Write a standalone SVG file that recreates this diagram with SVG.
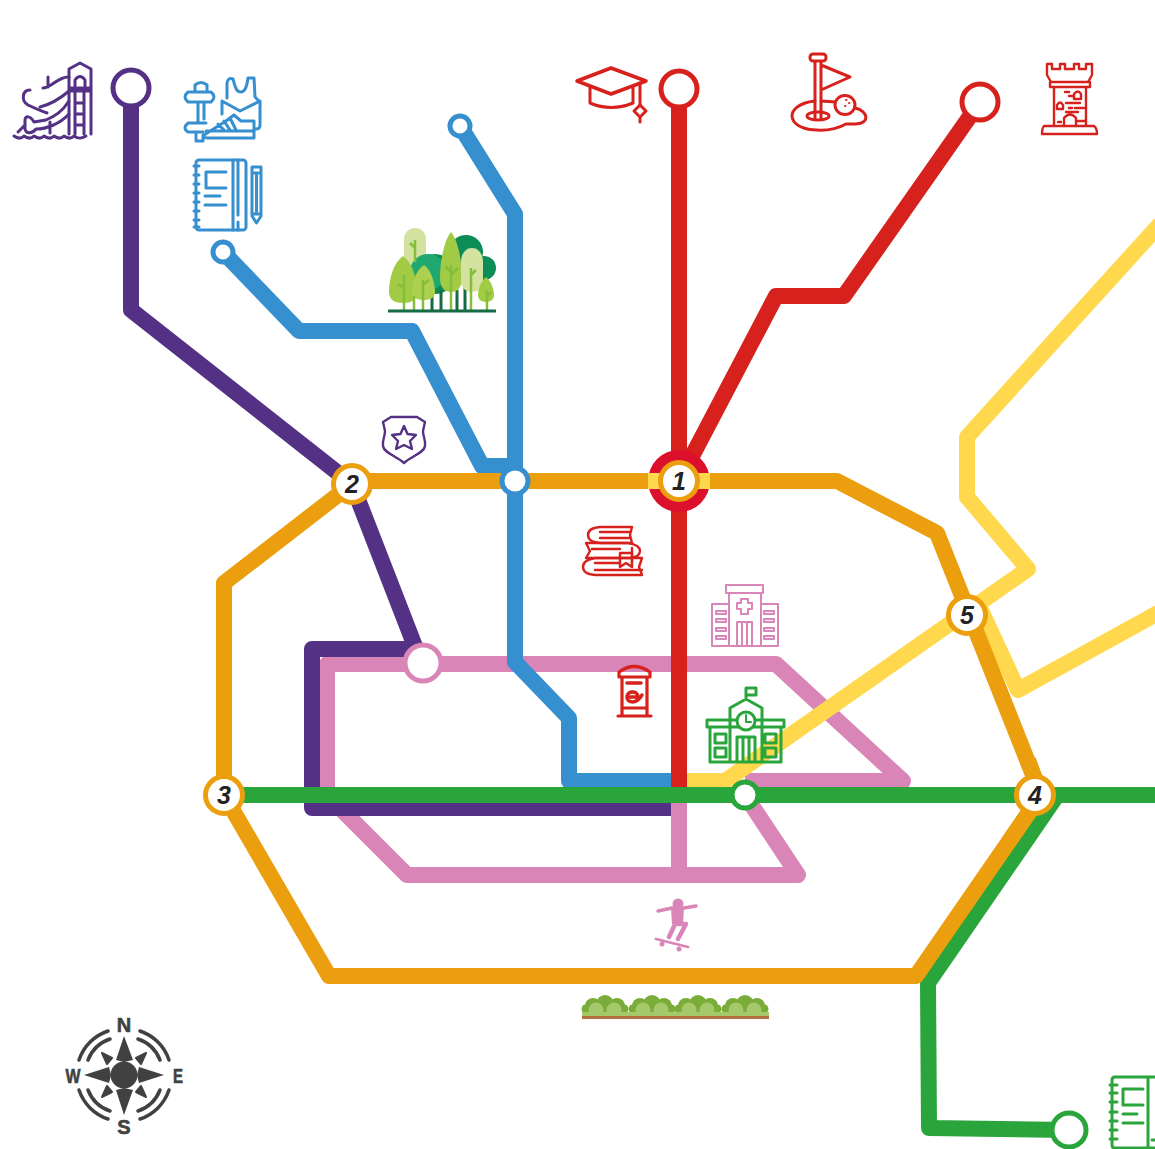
<svg xmlns="http://www.w3.org/2000/svg" width="1155" height="1149" viewBox="0 0 1155 1149">
<style>
.l{fill:none;stroke-width:16;stroke-linejoin:round;stroke-linecap:butt}
.i{fill:none;stroke-width:3;stroke-linejoin:round;stroke-linecap:round}
.t{stroke-width:2.400}
.s{fill:#fff;stroke-width:5}
.n{font-family:"Liberation Sans",Arial,sans-serif;font-weight:700;font-style:italic;font-size:25px;fill:#222;text-anchor:middle}
.c{font-family:"Liberation Sans",Arial,sans-serif;font-weight:700;font-size:20px;fill:#414141;stroke:#414141;stroke-width:.6;text-anchor:middle}
.pu{stroke:#553185}.bl{stroke:#3690cf}.re{stroke:#d7211c}.or{stroke:#ec9f0e}.gr{stroke:#29a53c}.ye{stroke:#ffd84d}.pi{stroke:#d985b7}
</style>
<defs>
<g id="bush">
<rect x="-22" y="1005" width="44" height="8" fill="#7aac3a"/>
<circle cx="0" cy="1004" r="9" fill="#7aac3a"/><circle cx="-12" cy="1006" r="8" fill="#7aac3a"/><circle cx="12" cy="1006" r="8" fill="#7aac3a"/><circle cx="-19" cy="1009" r="4.500" fill="#7aac3a"/><circle cx="19" cy="1009" r="4.500" fill="#7aac3a"/>
<circle cx="-9" cy="1010" r="7.500" fill="#a5c96a"/><circle cx="9" cy="1010" r="7.500" fill="#a5c96a"/>
</g>
</defs>
<rect width="1155" height="1149" fill="#fff"/>
<g id="connectors">
<path class="l pi" d="M423 664H776L903 781H745M745 795L798 875H407L327 795V664H423"/>
<path class="l pi" d="M679 790V875"/>
<path class="l ye" d="M1160 224L967 437V497L1028 569L725 781H679"/>
<path class="l ye" d="M980 608L1018 690L1160 612"/>
<path class="l pu" d="M131 88V310L352 484L416 649H312V808H671"/>
<path class="l bl" d="M460 126L515 214V662L569 718V781H679"/>
<path class="l bl" d="M223 252L299 331H412L482 466H515"/>
<path class="l re" d="M679 90V795"/>
<path class="l re" d="M980 102L844 296H776L679 481"/>
<path class="l gr" d="M1056 797L928 983L929 1128L1069 1130"/>
<path class="l or" d="M352 481H837L937 533L1041 795L916 976H329L224 795V583L352 484"/>
<path class="l gr" d="M224 795H1155"/>
<path class="l or" d="M1028 760L1041 795L1010 840"/>
</g>
<g id="terminal-purple"><circle cx="131" cy="88" r="18" class="s pu"/></g>
<g id="terminal-blue-1"><circle cx="460" cy="126" r="10" class="s bl"/></g>
<g id="terminal-blue-2"><circle cx="223" cy="252" r="10" class="s bl"/></g>
<g id="terminal-red-1"><circle cx="679" cy="89" r="18" class="s re"/></g>
<g id="terminal-red-2"><circle cx="980" cy="102" r="18" class="s re"/></g>
<g id="terminal-green"><circle cx="1069" cy="1130" r="17" class="s gr"/></g>
<g id="stop-pink"><circle cx="423" cy="663" r="18" class="s pi"/></g>
<g id="stop-blue"><circle cx="515" cy="481" r="13" class="s bl"/></g>
<g id="stop-green"><circle cx="745" cy="795" r="13" class="s gr"/></g>
<g id="station-1">
<circle cx="679" cy="481" r="31" fill="#dc0f2d"/>
<path d="M648 473H710V489H648Z" fill="#ffd84d"/>
<circle cx="679" cy="481" r="18.500" class="s or"/>
<text x="679" y="490" class="n">1</text>
</g>
<g id="station-2"><circle cx="352" cy="484" r="18.500" class="s or"/><text x="352" y="493" class="n">2</text></g>
<g id="station-3"><circle cx="224" cy="795" r="18.500" class="s or"/><text x="224" y="804" class="n">3</text></g>
<g id="station-4"><circle cx="1035" cy="795" r="18.500" class="s or"/><text x="1035" y="804" class="n">4</text></g>
<g id="station-5"><circle cx="967" cy="615" r="18.500" class="s or"/><text x="967" y="624" class="n">5</text></g>

<g id="icon-slide" class="i pu">
<path d="M14 136c4 3 7 3 10 0c4 3 7 3 10 0c4 3 7 3 10 0c4 3 7 3 10 0c4 3 7 3 10 0c4 3 7 3 10 0c4 3 7 3 12 0"/>
<path d="M69 134V69L80 63L91 69V134M69 88H91M69 91H91M75 86V80Q80 73 85 80V86M75 92V134M84 92V134M75 103H84M75 114H84M75 125H84"/>
<path d="M43 88C52 88 58 76 69 77M48 77V87M30 90C22 90 21 101 28 105C36 109 42 111 47 113M40 107C52 104 62 97 69 91M69 101C62 112 55 116 46 120L34 122C30 115 25 116 25 120V129C26 134 32 134 36 129C46 129 60 124 69 114M18 132L25 125M50 122V133"/>
</g>
<g id="icon-gym" class="i bl">
<path d="M195 92V85Q201 80 207 85V92M188 92H211Q217 97 211 102H188Q182 97 188 92ZM198 102V123M204 102V119M188 123H206M188 123Q182 128 188 132H203M196 134V141H203V135"/>
<path d="M227 98V83Q228 77 233 79C235 86 236 92 241 92C245 92 247 86 248 78L254 78L255 97L260 102V125Q260 129 256 129H255M222 101L240 111L260 101M222 101V114"/>
<path d="M204 135L226 121L234 115L241 121H254V138H208Q202 138 204 135ZM206 131H254M218 124L224 130M224 121L230 130M230 118L236 130"/>
</g>
<g id="icon-notebook" class="i bl">
<rect x="196" y="160" width="50" height="70" rx="3"/>
<path d="M194 166H199M194 175H199M194 184H199M194 193H199M194 202H199M194 211H199M194 220H199M194 227H199M233 160V230M238 160V215M238 222V230M226 172H206V188H226M205 196H220M205 205H226"/>
<path d="M252 167H261V216L256.500 223L252 216ZM252 173H261M252 214H261M256.500 175V212"/>
</g>
<g id="icon-cap" class="i re">
<path d="M577 81L611 68L646 81L611 94Z" style="stroke-width:3.500"/>
<path d="M590 87V103Q611 112 633 103V87M640 83V105"/>
<path d="M640 105L646 111L640 117L634 111ZM640 117V122"/>
</g>
<g id="icon-golf" class="i re">
<path d="M815 62V118M821 62V118M821 65L850 77L821 90"/>
<rect x="810" y="54" width="16" height="7" rx="3"/>
<path d="M815 101C797 103 792 111 792 116C793 132 828 134 846 124H855C870 124 869 111 855 108M821 101L836 102"/>
<ellipse cx="818" cy="116" rx="11" ry="4"/>
<ellipse cx="845" cy="105" rx="10" ry="9.500" fill="#fff"/>
<path d="M846 100h.5M849 103h.5M845 106h.5" style="stroke-width:1.800"/>
</g>
<g id="icon-tower" class="i re t">
<path d="M1047 64H1052V69H1060V64H1065V69H1074V64H1079V69H1086V64H1092V75L1088 82H1051L1047 75ZM1050 82H1090V87H1050ZM1054 87V126M1086 87V126M1044 126H1094Q1097 128 1097 134H1042Q1042 128 1044 126Z"/>
<path d="M1064 126V118Q1070 111 1076 118V126M1065 92H1069M1069 96H1073M1074 99V94Q1078 89 1081 94V99ZM1057 109V105Q1060 100 1063 105V109ZM1066 103H1080M1069 108H1072M1075 108H1084M1066 112H1078M1058 122H1061M1078 121H1085"/>
</g>
<g id="icon-park">
<rect x="404" y="228" width="22" height="60" rx="11" fill="#d3e29e"/>
<circle cx="466" cy="252" r="17" fill="#0c8c57"/>
<circle cx="484" cy="268" r="12" fill="#0c8c57"/>
<circle cx="435" cy="274" r="20" fill="#0c8c57"/>
<circle cx="428" cy="272" r="18" fill="#1fa971"/>
<path d="M432 288V311M441 290V311M457 290V311M465 285V311" stroke="#146b44" stroke-width="3"/>
<path d="M403 256C394 262 389 278 389 292C389 300 395 303 403 303C411 303 417 300 417 292C417 278 412 262 403 256Z" fill="#a1cb44"/>
<path d="M424 265C416 270 412 283 412 292C412 298 417 300 424 300C430 300 435 298 435 292C435 283 431 270 424 265Z" fill="#aed04f"/>
<path d="M451 232C444 240 440 262 440 278C440 288 445 292 451 292C457 292 462 288 462 278C462 262 458 240 451 232Z" fill="#a1cb44"/>
<path d="M472 248C465 248 461 255 461 262V281C461 288 466 292 472 292C478 292 483 288 483 281V262C483 255 479 248 472 248Z" fill="#d3e29e"/>
<path d="M486 277C481 281 478 289 478 295C478 300 482 302 486 302C490 302 494 300 494 295C494 289 491 281 486 277Z" fill="#a1cb44"/>
<path d="M404 275V311M414 296V311M423 280V311M451 265V311M471 268V311M487 290V311M415 240V262M404 288L398 284M423 285L429 280M451 275L458 268M451 272L445 266M471 275L476 270M415 248L410 243M487 296L491 292" stroke="#86bd3a" stroke-width="2.500" fill="none"/>
<path d="M388 311H496" stroke="#146b44" stroke-width="3"/>
</g>
<g id="icon-shield" class="i pu t">
<path d="M391 417H417L425 422L423 431C423 437 426 440 425 446C424 453 412 456 404 463C396 456 384 453 383 446C382 440 385 437 385 431L383 422Z"/>
<path d="M404 426L407.500 434L416 435L410 441L412 449L404 445L396 449L398 441L392 435L400.500 434Z"/>
</g>
<g id="icon-books" class="i re t">
<path d="M632 527H600Q588 528 588 535Q588 542 600 543H632L630 535ZM600 532H630M600 538H630"/>
<path d="M586 543H628Q640 545 640 551Q640 557 630 558H586L590 551ZM592 549H620"/>
<path d="M642 558H595Q583 560 583 567Q583 574 595 575H642L639 567ZM595 563H620M595 570H642M632 548V563"/>
<path d="M620 553H632V567L626 563L620 567Z"/>
</g>
<g id="icon-hospital" class="i pi" style="stroke-width:2">
<path d="M726 585H763V593H726ZM729 593V646H761V593M712 604H729V646H712ZM761 604H778V646H761ZM737 646V622H752V646M742 622V646M747 622V646M741 599H748V603H752V609H748V614H741V609H737V603H741ZM716 611H726V614H716ZM716 619H726V622H716ZM716 628H726V631H716ZM716 636H726V639H716ZM764 611H774V614H764ZM764 619H774V622H764ZM764 628H774V631H764ZM764 636H774V639H764Z"/>
</g>
<g id="icon-postbox" class="i re">
<path d="M619 677V672Q634 661 650 672V677ZM622 677V715M647 677V715M618 716H651M622 708H647" style="stroke-width:3.200"/>
<path d="M627 683H641" style="stroke-width:3.500"/>
<path d="M630 697H638C638 691 629 690 627 696C626 703 636 705 642 695" style="stroke-width:3.500"/>
</g>
<g id="icon-school" class="i gr">
<path d="M707 720H784V727H707ZM710 727V762H781V727M730 720V708L746 699L762 708V762M730 708V762M746 699V688M746 688H756V695H746ZM737 762V737H755V762M743 737V762M749 737V762M715 734H726V743H715ZM715 748H726V757H715ZM765 734H776V743H765ZM765 748H776V757H765Z"/>
<circle cx="746" cy="721" r="9" fill="#fff"/>
<path d="M746 715V722H751" style="stroke-width:2"/>
</g>
<g id="icon-skater" fill="#d985b7" stroke="none">
<circle cx="678" cy="904" r="5.500"/>
<path d="M658 911L672 908H684L696 906" fill="none" stroke="#d985b7" stroke-width="3.500" stroke-linecap="round"/>
<path d="M671 908H684L683 924H672Z"/>
<path d="M676 922L669 937M678 924H686L678 939" fill="none" stroke="#d985b7" stroke-width="4.500" stroke-linecap="round" stroke-linejoin="round"/>
<path d="M656 939L688 947" stroke="#d985b7" stroke-width="2.800" stroke-linecap="round"/>
<circle cx="662" cy="944" r="2.500"/><circle cx="679" cy="949" r="2.500"/>
</g>
<g id="icon-hedge">
<use href="#bush" x="605"/><use href="#bush" x="652"/><use href="#bush" x="698"/><use href="#bush" x="745"/>
<rect x="582" y="1012" width="187" height="4" fill="#a5c96a"/>
<rect x="582" y="1016" width="187" height="3" fill="#b5713f"/>
</g>
<g id="compass" fill="#414141">
<circle cx="124" cy="1075" r="13.500"/>
<path d="M124 1036L133 1060L124 1062L116 1060ZM124 1115L133 1090L124 1088L116 1090ZM84 1075L109 1067L111 1075L109 1083ZM164 1075L139 1067L137 1075L139 1083Z"/>
<path d="M102 1053L112 1058L107 1064ZM146 1053L136 1058L141 1064ZM102 1097L112 1092L107 1086ZM146 1097L136 1092L141 1086Z" stroke="#414141" stroke-width="2" stroke-linejoin="round"/>
<g fill="none" stroke="#414141" stroke-width="3.500" stroke-linecap="round">
<path d="M79 1060A46 46 0 0 1 108 1031M88 1060A36 36 0 0 1 110 1039M169 1060A46 46 0 0 0 140 1031M160 1060A36 36 0 0 0 138 1039M79 1090A46 46 0 0 0 108 1119M88 1090A36 36 0 0 0 110 1111M169 1090A46 46 0 0 1 140 1119M160 1090A36 36 0 0 1 138 1111"/>
</g>
<text x="124" y="1032" class="c">N</text>
<text x="124" y="1134" class="c">S</text>
<text x="178" y="1083" class="c" textLength="10" lengthAdjust="spacingAndGlyphs">E</text>
<text x="73" y="1083" class="c" textLength="15" lengthAdjust="spacingAndGlyphs">W</text>
</g>
<g id="icon-notebook-green" class="i gr">
<path d="M1155 1077H1115Q1112 1077 1112 1080V1145Q1112 1148 1115 1148H1155M1110 1085H1117M1110 1093H1117M1110 1102H1117M1110 1112H1117M1110 1121H1117M1110 1130H1117M1110 1139H1117M1148 1077V1148M1143 1089H1123V1105H1143M1123 1114H1137M1123 1123H1143M1152 1140H1155"/>
</g>
</svg>
